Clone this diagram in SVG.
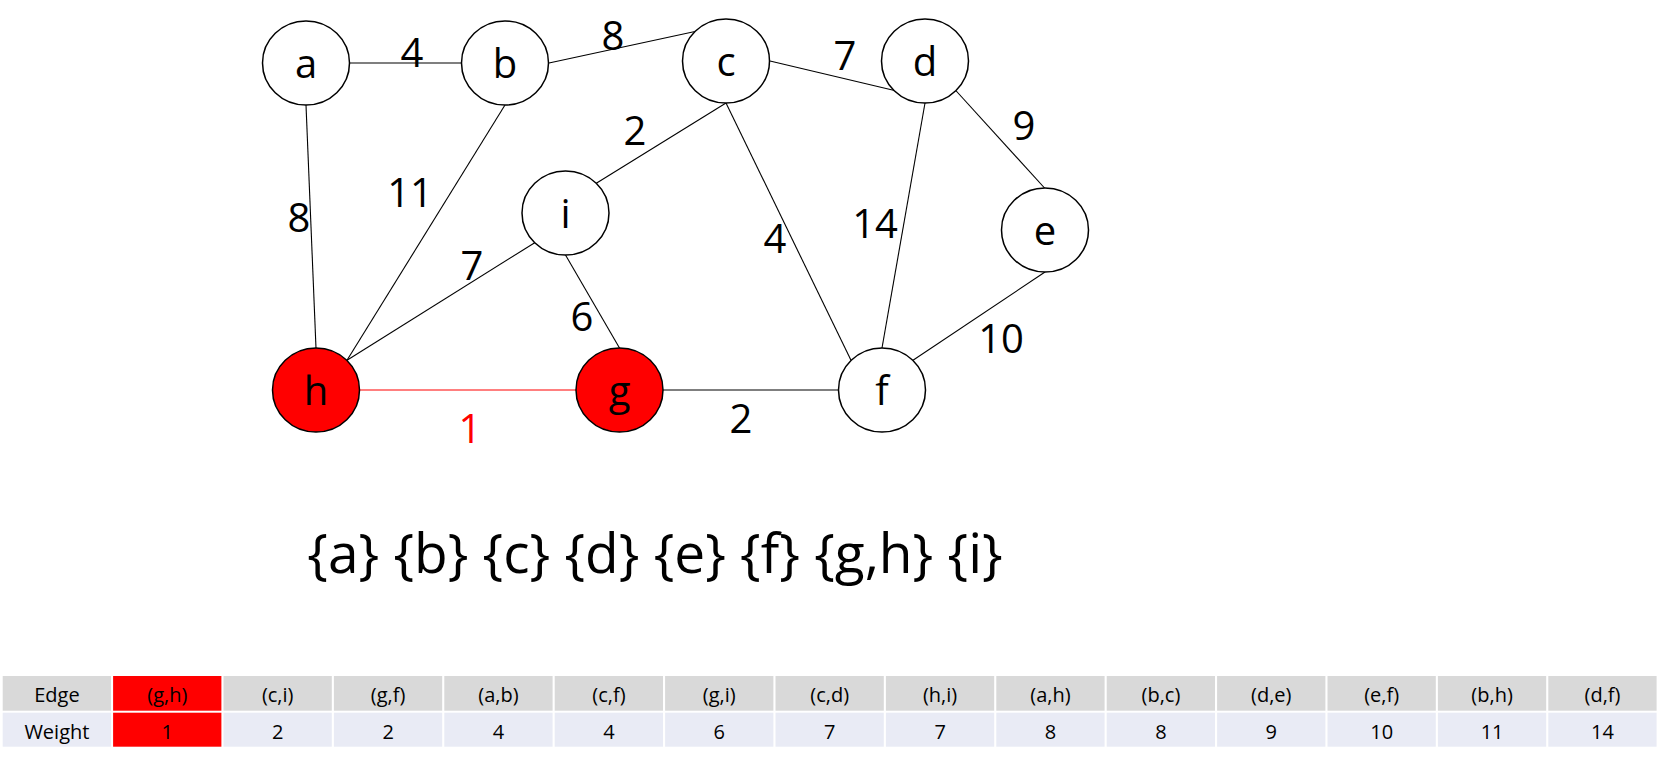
<svg xmlns="http://www.w3.org/2000/svg" width="1660" height="759" viewBox="0 0 1660 759">
<style>
.node ellipse{fill:#ffffff;stroke:#000000;stroke-width:1.5}
.node.sel ellipse{fill:#ff0000}
.nl{font-family:"Open Sans","Liberation Sans",sans-serif;font-size:40px;fill:#000000;text-anchor:middle}
.el{font-family:"Open Sans","Liberation Sans",sans-serif;font-size:40px;fill:#000000;text-anchor:middle}
.el.red{fill:#ff0000}
#edges line{stroke:#000000;stroke-width:1.1}
#edges line.red{stroke:#ff0000}
.sets{font-family:"Open Sans","Liberation Sans",sans-serif;font-size:55px;fill:#000000;text-anchor:middle}
.th{fill:#d9d9d9}
.td{fill:#e9ebf5}
.hl{fill:#ff0000}
.tt{font-family:"Open Sans","Liberation Sans",sans-serif;font-size:20px;fill:#000000;text-anchor:middle}
</style>
<rect width="1660" height="759" fill="#ffffff"/>
<g id="edges">
<line x1="350" y1="63" x2="461.5" y2="63"/>
<line x1="549" y1="63" x2="695" y2="31.5"/>
<line x1="770" y1="61" x2="894.5" y2="90.5"/>
<line x1="955.8" y1="90.5" x2="1045" y2="188.5"/>
<line x1="925" y1="103" x2="882" y2="348"/>
<line x1="726" y1="103" x2="851" y2="360.3"/>
<line x1="1045" y1="272" x2="913" y2="360.3"/>
<line x1="306" y1="105" x2="316" y2="348"/>
<line x1="505" y1="105" x2="347" y2="360.3"/>
<line x1="347" y1="360.3" x2="534.7" y2="242.7"/>
<line x1="726" y1="103" x2="596.3" y2="183.3"/>
<line x1="565.5" y1="255" x2="619.5" y2="348"/>
<line class="red" x1="359.5" y1="390" x2="576" y2="390"/>
<line x1="663" y1="390" x2="838.5" y2="390"/>
</g>
<g id="edge-labels">
<text class="el" x="412" y="66.5">4</text>
<text class="el" x="613" y="50">8</text>
<text class="el" x="845" y="70">7</text>
<text class="el" x="1024" y="140">9</text>
<text class="el" x="875" y="238">14</text>
<text class="el" x="775" y="253">4</text>
<text class="el" x="1001" y="353">10</text>
<text class="el" x="741" y="433">2</text>
<text class="el" x="635" y="145">2</text>
<text class="el" x="410" y="206.5">11</text>
<text class="el" x="299" y="232">8</text>
<text class="el" x="472" y="280">7</text>
<text class="el" x="582" y="331">6</text>
<text class="el red" x="470" y="443">1</text>
</g>
<g id="node-a" class="node"><ellipse cx="306" cy="63" rx="43.5" ry="42"/><text class="nl" x="306" y="77.5">a</text></g>
<g id="node-b" class="node"><ellipse cx="505" cy="63" rx="43.5" ry="42"/><text class="nl" x="505" y="77.5">b</text></g>
<g id="node-c" class="node"><ellipse cx="726" cy="61" rx="43.5" ry="42"/><text class="nl" x="726" y="75.5">c</text></g>
<g id="node-d" class="node"><ellipse cx="925" cy="61" rx="43.5" ry="42"/><text class="nl" x="925" y="75.5">d</text></g>
<g id="node-e" class="node"><ellipse cx="1045" cy="230" rx="43.5" ry="42"/><text class="nl" x="1045" y="244.5">e</text></g>
<g id="node-f" class="node"><ellipse cx="882" cy="390" rx="43.5" ry="42"/><text class="nl" x="882" y="404.5">f</text></g>
<g id="node-g" class="node sel"><ellipse cx="619.5" cy="390" rx="43.5" ry="42"/><text class="nl" x="619.5" y="404.5">g</text></g>
<g id="node-h" class="node sel"><ellipse cx="316" cy="390" rx="43.5" ry="42"/><text class="nl" x="316" y="404.5">h</text></g>
<g id="node-i" class="node"><ellipse cx="565.5" cy="213" rx="43.5" ry="42"/><text class="nl" x="565.5" y="227.5">i</text></g>
<text id="sets" class="sets" x="655" y="573">{a} {b} {c} {d} {e} {f} {g,h} {i}</text>
<g id="table">
<rect class="th" x="2.7" y="676" width="108.3" height="34.7"/>
<rect class="hl" x="113.1" y="676" width="108.3" height="34.7"/>
<rect class="th" x="223.5" y="676" width="108.3" height="34.7"/>
<rect class="th" x="333.9" y="676" width="108.3" height="34.7"/>
<rect class="th" x="444.3" y="676" width="108.3" height="34.7"/>
<rect class="th" x="554.7" y="676" width="108.3" height="34.7"/>
<rect class="th" x="665.1" y="676" width="108.3" height="34.7"/>
<rect class="th" x="775.5" y="676" width="108.3" height="34.7"/>
<rect class="th" x="885.9" y="676" width="108.3" height="34.7"/>
<rect class="th" x="996.3" y="676" width="108.3" height="34.7"/>
<rect class="th" x="1106.7" y="676" width="108.3" height="34.7"/>
<rect class="th" x="1217.1" y="676" width="108.3" height="34.7"/>
<rect class="th" x="1327.5" y="676" width="108.3" height="34.7"/>
<rect class="th" x="1437.9" y="676" width="108.3" height="34.7"/>
<rect class="th" x="1548.3" y="676" width="108.3" height="34.7"/>
<rect class="td" x="2.7" y="712.7" width="108.3" height="34"/>
<rect class="hl" x="113.1" y="712.7" width="108.3" height="34"/>
<rect class="td" x="223.5" y="712.7" width="108.3" height="34"/>
<rect class="td" x="333.9" y="712.7" width="108.3" height="34"/>
<rect class="td" x="444.3" y="712.7" width="108.3" height="34"/>
<rect class="td" x="554.7" y="712.7" width="108.3" height="34"/>
<rect class="td" x="665.1" y="712.7" width="108.3" height="34"/>
<rect class="td" x="775.5" y="712.7" width="108.3" height="34"/>
<rect class="td" x="885.9" y="712.7" width="108.3" height="34"/>
<rect class="td" x="996.3" y="712.7" width="108.3" height="34"/>
<rect class="td" x="1106.7" y="712.7" width="108.3" height="34"/>
<rect class="td" x="1217.1" y="712.7" width="108.3" height="34"/>
<rect class="td" x="1327.5" y="712.7" width="108.3" height="34"/>
<rect class="td" x="1437.9" y="712.7" width="108.3" height="34"/>
<rect class="td" x="1548.3" y="712.7" width="108.3" height="34"/>
<text class="tt" x="56.9" y="702">Edge</text>
<text class="tt" x="167.3" y="702">(g,h)</text>
<text class="tt" x="277.7" y="702">(c,i)</text>
<text class="tt" x="388.1" y="702">(g,f)</text>
<text class="tt" x="498.5" y="702">(a,b)</text>
<text class="tt" x="608.9" y="702">(c,f)</text>
<text class="tt" x="719.3" y="702">(g,i)</text>
<text class="tt" x="829.7" y="702">(c,d)</text>
<text class="tt" x="940.1" y="702">(h,i)</text>
<text class="tt" x="1050.5" y="702">(a,h)</text>
<text class="tt" x="1160.9" y="702">(b,c)</text>
<text class="tt" x="1271.3" y="702">(d,e)</text>
<text class="tt" x="1381.7" y="702">(e,f)</text>
<text class="tt" x="1492.1" y="702">(b,h)</text>
<text class="tt" x="1602.5" y="702">(d,f)</text>
<text class="tt" x="56.9" y="739">Weight</text>
<text class="tt" x="167.3" y="739">1</text>
<text class="tt" x="277.7" y="739">2</text>
<text class="tt" x="388.1" y="739">2</text>
<text class="tt" x="498.5" y="739">4</text>
<text class="tt" x="608.9" y="739">4</text>
<text class="tt" x="719.3" y="739">6</text>
<text class="tt" x="829.7" y="739">7</text>
<text class="tt" x="940.1" y="739">7</text>
<text class="tt" x="1050.5" y="739">8</text>
<text class="tt" x="1160.9" y="739">8</text>
<text class="tt" x="1271.3" y="739">9</text>
<text class="tt" x="1381.7" y="739">10</text>
<text class="tt" x="1492.1" y="739">11</text>
<text class="tt" x="1602.5" y="739">14</text>
</g>
</svg>
